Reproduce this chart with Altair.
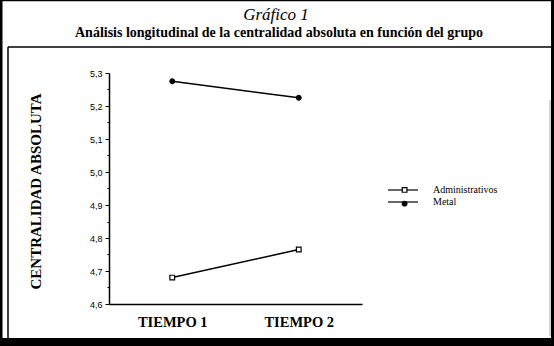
import altair as alt
import pandas as pd

tiempos = ["TIEMPO 1", "TIEMPO 2"]
grupos = ["Administrativos", "Metal"]
marcadores = ["adm", "met"]
administrativos = [4.68, 4.765]
metal = [5.275, 5.225]
y_ticks = [4.6, 4.65, 4.7, 4.75, 4.8, 4.85, 4.9, 4.95, 5.0, 5.05, 5.1, 5.15, 5.2, 5.25, 5.3]
titulo = "Gráfico 1"
subtitulo = "Análisis longitudinal de la centralidad absoluta en función del grupo"

rows = []
for t, v in zip(tiempos, administrativos):
    rows.append({"tiempo": t, "grupo": grupos[0], "marcador": marcadores[0], "valor": v})
for t, v in zip(tiempos, metal):
    rows.append({"tiempo": t, "grupo": grupos[1], "marcador": marcadores[1], "valor": v})
df = pd.DataFrame(rows)

W, H = 253, 231
L, T = 109, 73

x_enc = alt.X("tiempo:N", sort=tiempos,
              scale=alt.Scale(type="point", padding=0.5),
              axis=alt.Axis(title=None, ticks=False, domainColor="black", domainWidth=1.5,
                            labelFont="Liberation Serif", labelFontSize=14.5, labelFontWeight="bold",
                            labelColor="black", labelPadding=11, labelAngle=0))
y_enc = alt.Y("valor:Q", scale=alt.Scale(domain=[4.6, 5.3], nice=False, zero=False),
              axis=alt.Axis(values=y_ticks, grid=False, domainColor="black", domainWidth=1.5,
                            tickColor="black", tickWidth=1,
                            tickSize={"condition": {"test": "round(datum.value*100) % 10 != 0", "value": 2}, "value": 4},
                            labelExpr="round(datum.value*100) % 10 != 0 ? '' : replace(format(datum.value, '.1f'), '.', ',')",
                            labelFont="Liberation Sans", labelFontSize=9, labelColor="black", labelPadding=3,
                            title="CENTRALIDAD ABSOLUTA", titleFont="Liberation Serif", titleFontSize=15,
                            titleFontWeight="bold", titleColor="black", titleAngle=270,
                            titleX=-74, titleY=118, titleAlign="center", titleBaseline="middle"))

LX, LY = 287, 110

lines = alt.Chart(df).mark_line(strokeWidth=1.5).encode(
    x=x_enc, y=y_enc,
    color=alt.Color("grupo:N", scale=alt.Scale(domain=grupos, range=["black", "black"]),
                    legend=alt.Legend(orient="none", legendX=LX, legendY=LY, title=None, padding=0,
                                      symbolType="M-2.4,0H2.4", symbolSize=156, symbolStrokeWidth=1.2,
                                      labelFont="Liberation Serif", labelFontSize=10, labelColor="black",
                                      labelOffset=23, rowPadding=0)))

marker_legend = alt.Legend(orient="none", legendX=LX + 3.6, legendY=LY + 1.9, title=None, padding=0,
                           symbolSize=22, symbolStrokeWidth=1.2, symbolStrokeColor="black",
                           symbolOpacity=1, labelOpacity=0, labelFontSize=10, rowPadding=3.7)

points = alt.Chart(df).mark_point(filled=True, size=22, strokeWidth=1.2, opacity=1).encode(
    x=x_enc, y=y_enc,
    shape=alt.Shape("marcador:N", scale=alt.Scale(domain=marcadores, range=["square", "circle"]), legend=marker_legend),
    fill=alt.Fill("marcador:N", scale=alt.Scale(domain=marcadores, range=["white", "black"]), legend=marker_legend),
    stroke=alt.Stroke("marcador:N", scale=alt.Scale(domain=marcadores, range=["black", "black"]), legend=marker_legend),
)

one = pd.DataFrame({"k": [0]})
def rule(x1, y1, x2, y2, w, c="black"):
    return alt.Chart(one).mark_rule(color=c, strokeWidth=w).encode(
        x=alt.value(x1 - L), y=alt.value(y1 - T), x2=alt.value(x2 - L), y2=alt.value(y2 - T))

def label(txt, cx, cy, size, weight="normal", style="normal"):
    return alt.Chart(one).mark_text(text=txt, font="Liberation Serif", fontSize=size, fontWeight=weight,
                                    fontStyle=style, color="black", align="center", baseline="middle").encode(
        x=alt.value(cx - L), y=alt.value(cy - T))

frames = [
    rule(1, 0, 1, 346, 3),
    rule(552.5, 0, 552.5, 346, 3),
    rule(0, 0.5, 554, 0.5, 1.5),
    rule(0, 342, 554, 342, 8),
    rule(8, 47, 554, 47, 1.5),
    rule(8, 47, 8, 338, 1.5),
    rule(550, 100, 550, 336, 1, "#aaaaaa"),
]
texts = [
    label(titulo, 276, 15, 17, style="italic"),
    label(subtitulo, 279, 33, 14, weight="bold"),
]

chart = alt.layer(*frames, *texts, lines, points).properties(
    width=W, height=H,
    autosize=alt.AutoSizeParams(type="none"),
    padding={"left": L, "top": T, "right": 554 - L - W, "bottom": 346 - T - H},
    background="white",
).configure_view(stroke=None)

chart.save("out.html", embed_options={"renderer": "svg", "actions": False})
